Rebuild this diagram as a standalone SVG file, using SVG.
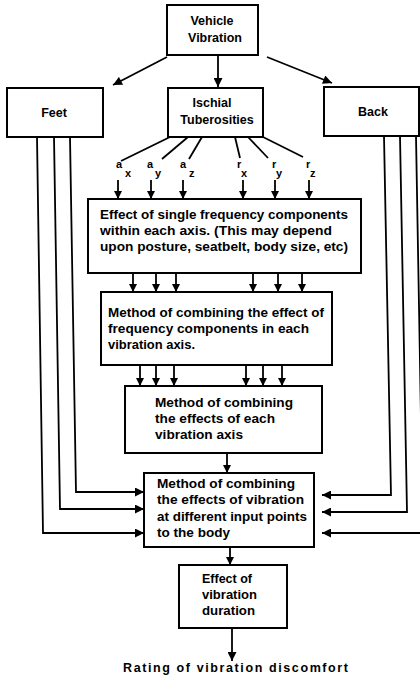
<svg xmlns="http://www.w3.org/2000/svg" width="420" height="677" viewBox="0 0 420 677">
<style>
.box{fill:#fff;stroke:#000;stroke-width:2}
.t{font-family:"Liberation Sans",Arial,sans-serif;font-weight:bold;font-size:12.5px;fill:#000}
.c{text-anchor:middle}
.ln{fill:none;stroke:#000;stroke-width:1.8}
.lab{font-family:"Liberation Sans",Arial,sans-serif;font-weight:bold;font-size:11px;fill:#000}
</style>
<defs>
<marker id="ah" viewBox="0 0 10 10" refX="10" refY="5" markerUnits="userSpaceOnUse" markerWidth="8" markerHeight="8" orient="auto"><path d="M0,0 L10,5 L0,10 z" fill="#000"/></marker>
<marker id="ahL" viewBox="0 0 10 10" refX="10" refY="5" markerUnits="userSpaceOnUse" markerWidth="11" markerHeight="9" orient="auto"><path d="M0,0 L10,5 L0,10 z" fill="#000"/></marker>
</defs>
<rect width="420" height="677" fill="#fff"/>
<g id="connectors">
<line class="ln" x1="167" y1="57" x2="113" y2="85" marker-end="url(#ahL)"/>
<line class="ln" x1="218" y1="55" x2="218" y2="87" marker-end="url(#ahL)"/>
<line class="ln" x1="267" y1="57" x2="332" y2="83" marker-end="url(#ahL)"/>
<line class="ln" x1="170" y1="137" x2="121" y2="161"/>
<line class="ln" x1="188" y1="137" x2="162" y2="159"/>
<line class="ln" x1="202" y1="137" x2="189" y2="159"/>
<line class="ln" x1="235" y1="137" x2="240" y2="158"/>
<line class="ln" x1="248" y1="137" x2="268" y2="158"/>
<line class="ln" x1="263" y1="137" x2="303" y2="157"/>
<line class="ln" x1="118" y1="180" x2="118" y2="199" marker-end="url(#ah)"/>
<line class="ln" x1="151" y1="180" x2="151" y2="199" marker-end="url(#ah)"/>
<line class="ln" x1="183" y1="180" x2="183" y2="199" marker-end="url(#ah)"/>
<line class="ln" x1="243" y1="180" x2="243" y2="199" marker-end="url(#ah)"/>
<line class="ln" x1="275" y1="180" x2="275" y2="199" marker-end="url(#ah)"/>
<line class="ln" x1="309" y1="180" x2="309" y2="199" marker-end="url(#ah)"/>
<line class="ln" x1="133" y1="273" x2="133" y2="292" marker-end="url(#ah)"/>
<line class="ln" x1="156" y1="273" x2="156" y2="292" marker-end="url(#ah)"/>
<line class="ln" x1="176" y1="273" x2="176" y2="292" marker-end="url(#ah)"/>
<line class="ln" x1="253" y1="273" x2="253" y2="292" marker-end="url(#ah)"/>
<line class="ln" x1="278" y1="273" x2="278" y2="292" marker-end="url(#ah)"/>
<line class="ln" x1="302" y1="273" x2="302" y2="292" marker-end="url(#ah)"/>
<line class="ln" x1="140" y1="365" x2="140" y2="386" marker-end="url(#ah)"/>
<line class="ln" x1="156" y1="365" x2="156" y2="386" marker-end="url(#ah)"/>
<line class="ln" x1="174" y1="365" x2="174" y2="386" marker-end="url(#ah)"/>
<line class="ln" x1="246" y1="365" x2="246" y2="386" marker-end="url(#ah)"/>
<line class="ln" x1="263" y1="365" x2="263" y2="386" marker-end="url(#ah)"/>
<line class="ln" x1="282" y1="365" x2="282" y2="386" marker-end="url(#ah)"/>
<line class="ln" x1="227" y1="453" x2="227" y2="473" marker-end="url(#ah)"/>
<line class="ln" x1="230" y1="547" x2="230" y2="565" marker-end="url(#ah)"/>
<line class="ln" x1="232" y1="628" x2="232" y2="661" marker-end="url(#ahL)"/>
<polyline class="ln" points="37,137 43,533 144,533" marker-end="url(#ahL)"/>
<polyline class="ln" points="54,137 60,509 144,509" marker-end="url(#ahL)"/>
<polyline class="ln" points="70,137 76,492 144,492" marker-end="url(#ahL)"/>
<polyline class="ln" points="384,136 391,495 322,495" marker-end="url(#ahL)"/>
<polyline class="ln" points="400,136 407,512 322,512" marker-end="url(#ahL)"/>
<polyline class="ln" points="416,136 423,533 322,533" marker-end="url(#ahL)"/>
</g>
<g id="labels">
<text class="lab" x="116" y="168">a</text><text class="lab" x="125" y="177">x</text>
<text class="lab" x="147" y="168">a</text><text class="lab" x="155" y="177">y</text>
<text class="lab" x="180" y="168">a</text><text class="lab" x="189" y="177">z</text>
<text class="lab" x="237" y="168">r</text><text class="lab" x="241" y="177">x</text>
<text class="lab" x="272" y="168">r</text><text class="lab" x="276" y="177">y</text>
<text class="lab" x="306" y="168">r</text><text class="lab" x="310" y="177">z</text>
</g>
<g id="vehicle">
<rect class="box" x="167" y="5" width="91" height="50"/>
<text class="t c" x="212" y="25">Vehicle</text>
<text class="t c" x="215" y="42">Vibration</text>
</g>
<g id="feet">
<rect class="box" x="7" y="88" width="96" height="49"/>
<text class="t c" x="54" y="117">Feet</text>
</g>
<g id="ischial">
<rect class="box" x="168" y="88" width="95" height="49"/>
<text class="t c" x="212" y="107">Ischial</text>
<text class="t c" x="217" y="124">Tuberosities</text>
</g>
<g id="back">
<rect class="box" x="324" y="87" width="95" height="49"/>
<text class="t c" x="373" y="116">Back</text>
</g>
<g id="single">
<rect class="box" x="88" y="199" width="273" height="74"/>
<text class="t" x="100" y="219" textLength="248" lengthAdjust="spacingAndGlyphs">Effect of single frequency components</text>
<text class="t" x="100" y="235" textLength="232" lengthAdjust="spacingAndGlyphs">within each axis. (This may depend</text>
<text class="t" x="100" y="251" textLength="248" lengthAdjust="spacingAndGlyphs">upon posture, seatbelt, body size, etc)</text>
</g>
<g id="combine-freq">
<rect class="box" x="101" y="292" width="231" height="73"/>
<text class="t" x="108" y="317" textLength="216" lengthAdjust="spacingAndGlyphs">Method of combining the effect of</text>
<text class="t" x="108" y="333" textLength="201" lengthAdjust="spacingAndGlyphs">frequency components in each</text>
<text class="t" x="108" y="349" textLength="87" lengthAdjust="spacingAndGlyphs">vibration axis.</text>
</g>
<g id="combine-axis">
<rect class="box" x="125" y="386" width="197" height="67"/>
<text class="t" x="155" y="407" textLength="138" lengthAdjust="spacingAndGlyphs">Method of combining</text>
<text class="t" x="155" y="423" textLength="120" lengthAdjust="spacingAndGlyphs">the effects of each</text>
<text class="t" x="155" y="439" textLength="88" lengthAdjust="spacingAndGlyphs">vibration axis</text>
</g>
<g id="combine-points">
<rect class="box" x="144" y="473" width="170" height="74"/>
<text class="t" x="157" y="488" textLength="138" lengthAdjust="spacingAndGlyphs">Method of combining</text>
<text class="t" x="157" y="504" textLength="147" lengthAdjust="spacingAndGlyphs">the effects of  vibration</text>
<text class="t" x="157" y="521" textLength="150" lengthAdjust="spacingAndGlyphs">at different input points</text>
<text class="t" x="157" y="537" textLength="73" lengthAdjust="spacingAndGlyphs">to the body</text>
</g>
<g id="duration">
<rect class="box" x="179" y="565" width="108" height="63"/>
<text class="t" x="202" y="583" textLength="50" lengthAdjust="spacingAndGlyphs">Effect of</text>
<text class="t" x="202" y="599" textLength="55" lengthAdjust="spacingAndGlyphs">vibration</text>
<text class="t" x="202" y="615" textLength="53" lengthAdjust="spacingAndGlyphs">duration</text>
</g>
<g id="rating">
<text class="t" x="123" y="672" textLength="225" lengthAdjust="spacing">Rating of vibration discomfort</text>
</g>
</svg>
